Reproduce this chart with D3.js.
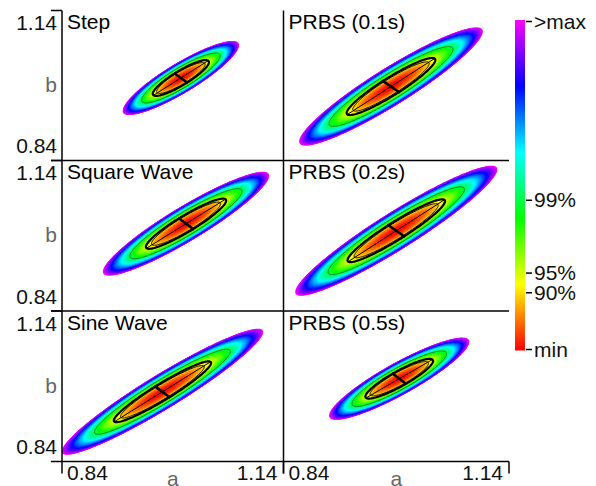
<!DOCTYPE html>
<html>
<head>
<meta charset="utf-8">
<script src="https://cdn.jsdelivr.net/npm/d3@7"></script>
<style>
  body { margin: 0; background: #fff; }
  svg { display: block; }
  text { font-family: "Liberation Sans", Arial, sans-serif; }
</style>
</head>
<body>
<div id="chart"></div>
<script>
// panels, left to right, top to bottom
const titles = ["Step", "PRBS (0.1s)", "Square Wave", "PRBS (0.2s)", "Sine Wave", "PRBS (0.5s)"];
// estimate (a,b) and the shape of the cost ellipse at the ">max" level
const centreA = [1.001, 0.983, 1.008, 0.990, 0.976, 0.994];
const centreB = [1.005, 0.988, 1.014, 1.000, 0.979, 1.005];
const halfLen = [0.105, 0.167, 0.150, 0.184, 0.183, 0.121];
const halfWid = [0.026, 0.032, 0.030, 0.032, 0.030, 0.028];
const tilt    = [43, 44, 42.4, 43.9, 42.5, 40.9];
const axisTicks = [0.84, 1.14];
// colour bar levels (fraction of max cost)
const levelValues = [0, 0.173, 0.233, 0.455, 1];
const levelLabels = ["min", "90%", "95%", "99%", ">max"];

const width = 596, height = 486;
const colX = [[62, 283.5], [283.5, 509]];
const rowY = [[10.5, 160.5], [160.5, 311], [311, 461.5]];
const fontSize = 21;

const color = v => d3.hsl(300 * v, 1, 0.5).toString();

const svg = d3.select("#chart").append("svg")
    .attr("width", width)
    .attr("height", height)
    .attr("viewBox", [0, 0, width, height]);

const defs = svg.append("defs");

titles.forEach((title, i) => {
  const col = i % 2, row = Math.floor(i / 2);
  const [x0, x1] = colX[col];
  const [y0, y1] = rowY[row];
  const x = d3.scaleLinear().domain(axisTicks).range([x0, x1]);
  const y = d3.scaleLinear().domain(axisTicks).range([y1, y0]);

  defs.append("clipPath").attr("id", "clip" + i)
    .append("rect").attr("x", x0).attr("y", y0).attr("width", x1 - x0).attr("height", y1 - y0);

  const g = svg.append("g");
  const plot = g.append("g").attr("clip-path", `url(#clip${i})`);

  const th = tilt[i] * Math.PI / 180;
  const ellipse = (s, n = 160) => d3.range(n).map(k => {
    const t = 2 * Math.PI * k / n;
    const u = halfLen[i] * s * Math.cos(t), v = halfWid[i] * s * Math.sin(t);
    return [centreA[i] + u * Math.cos(th) - v * Math.sin(th),
            centreB[i] + u * Math.sin(th) + v * Math.cos(th)];
  });
  const line = d3.line().x(d => x(d[0])).y(d => y(d[1])).curve(d3.curveLinearClosed);

  // filled bands, outer first
  const N = 90;
  plot.selectAll("path.band")
    .data(d3.range(N).map(k => 1 - k / N))
    .join("path")
      .attr("class", "band")
      .attr("d", L => line(ellipse(Math.sqrt(L))))
      .attr("fill", L => color(L - 0.5 / N));

  // contour lines 99%, 95%, 90%
  plot.append("path").attr("d", line(ellipse(Math.sqrt(levelValues[3]))))
      .attr("fill", "none").attr("stroke", "#143c14").attr("stroke-opacity", 0.8).attr("stroke-width", 0.8);
  plot.append("path").attr("d", line(ellipse(Math.sqrt(levelValues[2]))))
      .attr("fill", "none").attr("stroke", "#000").attr("stroke-width", 2.2);
  plot.append("path").attr("d", line(ellipse(Math.sqrt(levelValues[1]))))
      .attr("fill", "none").attr("stroke", "#000").attr("stroke-width", 1);

  // cross along the ellipse axes
  const s95 = Math.sqrt(levelValues[2]);
  const axisSeg = (du, dv) => [
    [centreA[i] - du * Math.cos(th) + dv * Math.sin(th), centreB[i] - du * Math.sin(th) - dv * Math.cos(th)],
    [centreA[i] + du * Math.cos(th) - dv * Math.sin(th), centreB[i] + du * Math.sin(th) + dv * Math.cos(th)]
  ];
  const seg = d3.line().x(d => x(d[0])).y(d => y(d[1]));
  plot.append("path").attr("d", seg(axisSeg(halfLen[i] * s95, 0)))
      .attr("stroke", "#000").attr("stroke-width", 1);
  plot.append("path").attr("d", seg(axisSeg(0, halfWid[i] * s95 * 1.1)))
      .attr("stroke", "#000").attr("stroke-width", 2.5);

  // axis lines
  g.append("line").attr("x1", x0).attr("x2", x0).attr("y1", y0).attr("y2", y1)
      .attr("stroke", "#000").attr("stroke-width", 1.5);
  g.append("line").attr("x1", x0).attr("x2", x1).attr("y1", y1).attr("y2", y1)
      .attr("stroke", "#000").attr("stroke-width", 1.5);

  g.append("text").attr("x", x0 + 5).attr("y", y0 + 18.5)
      .attr("font-size", fontSize).attr("fill", "#000").text(title);

  if (col === 0) {
    g.selectAll("line.ytick").data(axisTicks).join("line")
        .attr("x1", x0 - 11).attr("x2", x0).attr("y1", d => y(d)).attr("y2", d => y(d))
        .attr("stroke", "#000").attr("stroke-width", 1.5);
    g.selectAll("text.ytick").data(axisTicks).join("text")
        .attr("x", x0 - 5)
        .attr("y", (d, k) => k === 0 ? y(d) - 7.5 : y(d) + 19.5)
        .attr("text-anchor", "end").attr("font-size", fontSize).attr("fill", "#111")
        .text(d => d.toFixed(2));
    g.append("text").attr("x", x0 - 5).attr("y", (y0 + y1) / 2 + 6.5)
        .attr("text-anchor", "end").attr("font-size", fontSize).attr("fill", "#666").text("b");
  }
  if (row === 2) {
    g.selectAll("line.xtick").data(axisTicks).join("line")
        .attr("x1", d => x(d)).attr("x2", d => x(d)).attr("y1", y1).attr("y2", y1 + 12)
        .attr("stroke", "#000").attr("stroke-width", 1.5);
    g.selectAll("text.xtick").data(axisTicks).join("text")
        .attr("x", (d, k) => k === 0 ? x(d) + 5 : x(d) - 6)
        .attr("y", y1 + 18.5)
        .attr("text-anchor", (d, k) => k === 0 ? "start" : "end")
        .attr("font-size", fontSize).attr("fill", "#111")
        .text(d => d.toFixed(2));
    g.append("text").attr("x", (x0 + x1) / 2).attr("y", y1 + 24)
        .attr("text-anchor", "middle").attr("font-size", fontSize).attr("fill", "#666").text("a");
  }
});

// colour bar
const yLeg = d3.scaleLinear().domain([0, 1]).range([349.5, 21.5]);
const grad = defs.append("linearGradient").attr("id", "bar")
    .attr("x1", 0).attr("y1", 1).attr("x2", 0).attr("y2", 0);
grad.selectAll("stop").data(d3.range(0, 1.0001, 1 / 30)).join("stop")
    .attr("offset", d => d).attr("stop-color", d => color(d));
svg.append("rect").attr("x", 515).attr("y", yLeg(1) - 1.5).attr("width", 10)
    .attr("height", yLeg(0) - yLeg(1) + 2.5).attr("fill", "url(#bar)");
svg.selectAll("line.leg").data(levelValues).join("line")
    .attr("x1", 526).attr("x2", 532).attr("y1", d => yLeg(d)).attr("y2", d => yLeg(d))
    .attr("stroke", "#000").attr("stroke-width", 1.5);
svg.selectAll("text.leg").data(levelValues).join("text")
    .attr("x", 534).attr("y", d => yLeg(d) + 7)
    .attr("font-size", fontSize).attr("fill", "#111")
    .text((d, k) => levelLabels[k]);
</script>
</body>
</html>
